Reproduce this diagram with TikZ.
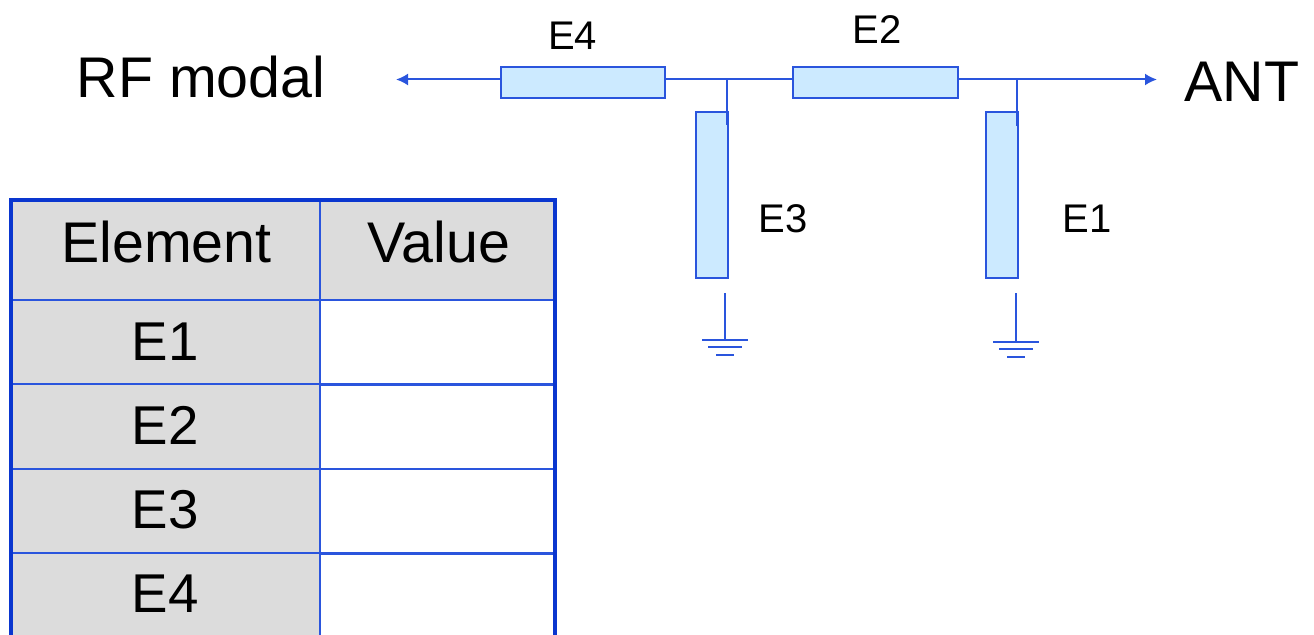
\documentclass[tikz,border=0pt]{standalone}
\usepackage{fontspec}
\setmainfont{Liberation Sans}
\usetikzlibrary{arrows.meta}
\definecolor{wireblue}{HTML}{2A55DD}
\definecolor{edgeblue}{HTML}{0A36CF}
\definecolor{boxblue}{HTML}{CCEAFF}
\definecolor{cellgrey}{HTML}{DCDCDC}
\tikzstyle{wire}=[wireblue, line width=1.5pt]
\tikzstyle{feed}=[wire, -{Latex[length=9pt, width=9pt]}]
\tikzstyle{hbox}=[draw=wireblue, line width=1.5pt, fill=boxblue, minimum width=123.4pt, minimum height=23.25pt, inner sep=0, outer sep=0]
\tikzstyle{vbox}=[draw=wireblue, line width=1.5pt, fill=boxblue, minimum width=24.2pt, minimum height=123.75pt, inner sep=0, outer sep=0]
\tikzstyle{cella}=[draw=wireblue, line width=1.5pt, inner sep=0, outer sep=0, minimum width=232.1pt, fill=cellgrey]
\tikzstyle{cellb}=[draw=wireblue, line width=1.5pt, inner sep=0, outer sep=0, minimum width=175.9pt]
\tikzstyle{big}=[font=\fontsize{43pt}{50pt}\selectfont, anchor=base, inner sep=0]
\tikzstyle{mid}=[font=\fontsize{41pt}{48pt}\selectfont, anchor=base, inner sep=0]
\tikzstyle{small}=[font=\fontsize{30pt}{36pt}\selectfont, anchor=base, inner sep=0]

\begin{document}
\begin{tikzpicture}[x=0.75pt, y=-0.75pt]

\clip (0,0) rectangle (1314,635);

\node [big] (rf)  at (201, 98) {RF modal};
\node [big] (ant) at (1242, 102) {ANT};

\node [hbox] (e4) at (583,   83) {};
\node [hbox] (e2) at (875.5, 83) {};
\node [vbox] (e3) at (712,  195) {};
\node [vbox] (e1) at (1002.3, 195) {};

\node [small] (e4t) at (572.5, 50) {E4};
\node [small] (e2t) at (877,   44) {E2};
\node [small] (e3t) at (783,  232) {E3};
\node [small] (e1t) at (1087, 232) {E1};

\coordinate (rfend)  at (396,  79.5);
\coordinate (antend) at (1157, 79.5);
\coordinate (ja)     at (727,  79.5);
\coordinate (jb)     at (1016.5, 79.5);
\coordinate (sa)     at (727,  125);
\coordinate (sb)     at (1016.5, 126);
\coordinate (ga)     at (725,  293);
\coordinate (gb)     at (1016, 293);
\coordinate (ba)     at (725,  340);
\coordinate (bb)     at (1016, 341.5);

\draw [feed] (e4.west |- rfend) -- (rfend);
\draw [wire] (e4.east |- ja) -- (e2.west |- ja);
\draw [feed] (e2.east |- jb) -- (antend);
\draw [wire] (ja) -- (sa);
\draw [wire] (jb) -- (sb);
\draw [wire] (ga) -- (ba);
\draw [wire] (gb) -- (bb);

\foreach \g in {ba, bb} {
  \draw [wire] ([xshift=-17.25pt]\g) -- ([xshift=17.25pt]\g);
  \draw [wire] ([xshift=-12.75pt, yshift=-5.5pt]\g) -- ([xshift=12.75pt, yshift=-5.5pt]\g);
  \draw [wire] ([xshift=-6.75pt, yshift=-11.5pt]\g) -- ([xshift=6.75pt, yshift=-11.5pt]\g);
}

\node [cella, minimum height=75pt] (heada) at (165.75, 250) {};
\node [cellb, minimum height=75pt, fill=cellgrey] (headb) at (437.75, 250) {};
\foreach \r/\y/\b in {1/342.25/360.5, 2/426.75/444.5, 3/511.25/528.5, 4/595.75/612.5} {
  \node [cella, minimum height=63.4pt] (rowa\r) at (165.75, \y) {};
  \node [cellb, minimum height=63.4pt] (rowb\r) at (437.75, \y) {};
  \node [mid] (rowt\r) at (165, \b) {E\r};
}

\node [big] (heada t) at (166.5, 262) {Element};
\node [big] (headb t) at (439, 262) {Value};

\draw [edgeblue, line width=3pt] (rowa4.south west) -- (heada.north west) -- (headb.north east) -- (rowb4.south east);

\end{tikzpicture}
\end{document}
